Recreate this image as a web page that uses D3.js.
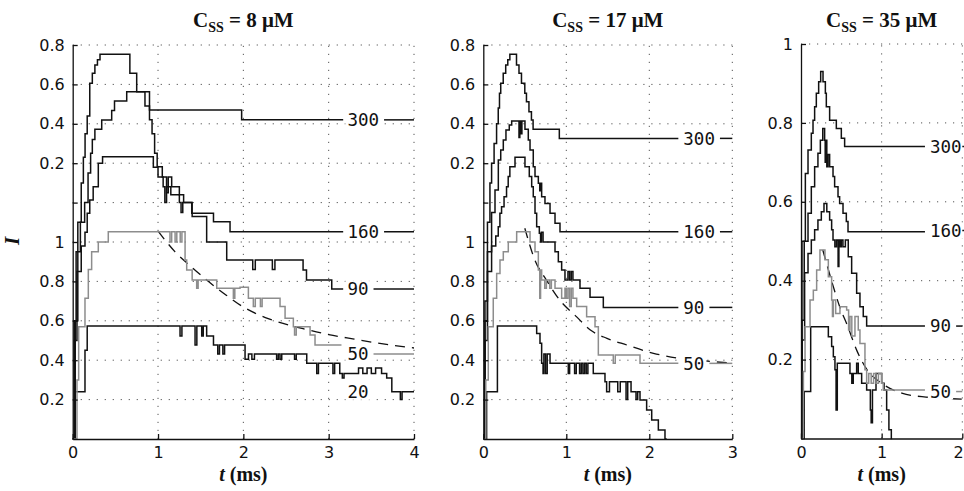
<!DOCTYPE html>
<html>
<head>
<meta charset="utf-8">
<script src="https://cdn.jsdelivr.net/npm/d3@7"></script>
<style>
body { margin: 0; background: #fff; }
svg { display: block; }
</style>
</head>
<body>
<svg id="chart" width="964" height="491"></svg>
<script>
// ---- data: [t (ms), I] pairs (upper traces carry their offset) ----
var concs = ["8", "17", "35"];

var tr8_300 = [[0,0],[0.03,0.6],[0.06,1.1],[0.1,1.3],[0.125,1.43],[0.145,1.55],[0.17,1.64],[0.2,1.806],[0.23,1.856],[0.26,1.898],[0.29,1.925],[0.32,1.953],[0.67,1.856],[0.75,1.763],[0.9,1.67],[1.98,1.62],[3.17,1.62]];
var tr8_160 = [[0,0],[0.02,0.6],[0.04,0.95],[0.09,1.1],[0.14,1.2],[0.18,1.35],[0.21,1.45],[0.23,1.52],[0.26,1.572],[0.34,1.619],[0.457,1.667],[0.49,1.716],[0.633,1.763],[0.847,1.69],[0.9,1.62],[0.93,1.55],[0.96,1.45],[0.99,1.382],[1.05,1.33],[1.1,1.25],[1.12,1.33],[1.16,1.28],[1.25,1.24],[1.3,1.2],[1.395,1.146],[1.65,1.103],[1.844,1.052],[3.17,1.052]];
var tr8_90 = [[0,0],[0.02,0.5],[0.05,0.85],[0.1,0.98],[0.144,1.05],[0.17,1.146],[0.2,1.213],[0.24,1.281],[0.3,1.4],[0.35,1.433],[0.945,1.38],[1.0,1.33],[1.06,1.28],[1.08,1.2],[1.1,1.28],[1.15,1.24],[1.25,1.2],[1.27,1.15],[1.29,1.2],[1.4,1.13],[1.57,1.0],[1.805,0.909],[2.11,0.86],[2.14,0.909],[2.34,0.86],[2.37,0.909],[2.7,0.858],[2.74,0.807],[3.036,0.761],[3.17,0.761]];
var tr8_50 = [[0,0],[0.05,0.3],[0.07,0.57],[0.144,0.714],[0.183,0.86],[0.222,0.951],[0.3,1.0],[0.417,1.052],[1.14,1.0],[1.16,1.052],[1.2,1.0],[1.22,1.052],[1.26,1.0],[1.28,1.052],[1.317,0.909],[1.336,0.858],[1.4,0.807],[1.453,0.765],[1.47,0.807],[1.688,0.765],[1.883,0.714],[1.9,0.765],[1.961,0.77],[2.059,0.714],[2.117,0.672],[2.14,0.714],[2.2,0.672],[2.22,0.714],[2.43,0.672],[2.489,0.613],[2.586,0.57],[2.6,0.528],[2.62,0.57],[2.782,0.528],[2.84,0.477],[3.15,0.477]];
var tr8_20 = [[0,0],[0.027,0.24],[0.144,0.45],[0.17,0.574],[1.258,0.523],[1.28,0.574],[1.434,0.477],[1.455,0.574],[1.512,0.523],[1.53,0.574],[1.57,0.523],[1.65,0.477],[1.7,0.431],[1.72,0.477],[1.76,0.431],[1.78,0.477],[2.02,0.405],[2.06,0.431],[2.1,0.405],[2.13,0.431],[2.39,0.405],[2.41,0.431],[2.43,0.405],[2.45,0.431],[2.6,0.405],[2.62,0.431],[2.743,0.384],[2.86,0.333],[2.88,0.384],[3.05,0.333],[3.07,0.384],[3.13,0.333],[3.16,0.31],[3.18,0.333],[3.35,0.36],[3.4,0.333],[3.45,0.36],[3.5,0.333],[3.55,0.36],[3.62,0.333],[3.68,0.31],[3.74,0.24],[3.84,0.2],[3.86,0.24],[4.0,0.24]];
var dash8 = [[1.0,1.055],[1.2,0.95],[1.4,0.87],[1.57,0.807],[1.8,0.73],[2.0,0.67],[2.3,0.61],[2.7,0.56],[3.0,0.53],[3.3,0.507],[3.6,0.485],[4.0,0.462]];

var tr17_300 = [[0,0],[0.02,0.7],[0.05,1.1],[0.08,1.3],[0.1,1.4],[0.13,1.5],[0.16,1.6],[0.18,1.68],[0.195,1.755],[0.21,1.806],[0.24,1.856],[0.27,1.898],[0.295,1.925],[0.32,1.953],[0.4,1.898],[0.43,1.856],[0.46,1.806],[0.5,1.755],[0.52,1.712],[0.55,1.661],[0.58,1.619],[0.6,1.572],[0.916,1.526],[2.35,1.526]];
var tr17_160 = [[0,0],[0.02,0.6],[0.05,0.95],[0.1,1.15],[0.141,1.264],[0.181,1.416],[0.21,1.467],[0.241,1.518],[0.273,1.568],[0.313,1.594],[0.342,1.614],[0.43,1.53],[0.44,1.614],[0.455,1.55],[0.465,1.614],[0.502,1.572],[0.542,1.518],[0.563,1.467],[0.602,1.382],[0.623,1.332],[0.663,1.298],[0.68,1.26],[0.69,1.298],[0.703,1.23],[0.743,1.196],[0.804,1.146],[0.864,1.095],[0.924,1.052],[2.35,1.052]];
var tr17_90 = [[0,0],[0.02,0.5],[0.05,0.85],[0.1,0.98],[0.15,1.03],[0.18,1.078],[0.2,1.146],[0.22,1.179],[0.25,1.23],[0.28,1.281],[0.3,1.332],[0.32,1.382],[0.382,1.43],[0.502,1.382],[0.554,1.332],[0.583,1.281],[0.602,1.23],[0.623,1.146],[0.643,1.078],[0.675,1.044],[0.69,1.0],[0.7,1.05],[0.72,1.0],[0.864,0.951],[0.904,0.9],[0.944,0.858],[0.984,0.807],[1.02,0.85],[1.04,0.807],[1.06,0.85],[1.08,0.807],[1.165,0.765],[1.286,0.72],[1.446,0.668],[2.35,0.668]];
var tr17_50 = [[0,0],[0.03,0.3],[0.06,0.57],[0.12,0.714],[0.161,0.84],[0.201,0.909],[0.241,0.951],[0.301,1.0],[0.402,1.052],[0.563,1.0],[0.623,0.951],[0.663,0.858],[0.68,0.714],[0.69,0.858],[0.703,0.807],[0.74,0.765],[0.76,0.807],[0.8,0.765],[0.82,0.807],[0.864,0.765],[0.944,0.714],[0.984,0.765],[1.0,0.714],[1.02,0.765],[1.04,0.672],[1.06,0.765],[1.08,0.714],[1.125,0.672],[1.245,0.62],[1.346,0.57],[1.386,0.426],[1.566,0.384],[1.59,0.426],[1.627,0.426],[1.888,0.384],[2.35,0.384]];
var tr17_20 = [[0,0],[0.04,0.24],[0.17,0.574],[0.643,0.536],[0.683,0.486],[0.703,0.384],[0.72,0.333],[0.73,0.431],[0.75,0.333],[0.77,0.431],[0.804,0.384],[1.024,0.333],[1.04,0.384],[1.1,0.333],[1.12,0.384],[1.16,0.333],[1.18,0.384],[1.2,0.333],[1.22,0.384],[1.24,0.333],[1.26,0.384],[1.325,0.333],[1.466,0.291],[1.486,0.24],[1.52,0.291],[1.6,0.291],[1.62,0.24],[1.65,0.291],[1.7,0.291],[1.72,0.2],[1.74,0.291],[1.78,0.24],[1.84,0.2],[1.86,0.24],[1.888,0.198],[1.968,0.147],[2.029,0.096],[2.109,0.046],[2.189,0],[2.21,0]];
var dash17 = [[0.5,1.07],[0.62,0.91],[0.76,0.807],[0.92,0.706],[1.125,0.62],[1.29,0.553],[1.49,0.511],[1.73,0.477],[2.05,0.435],[2.35,0.41],[2.7,0.395],[3.0,0.385]];

var tr35_300 = [[0,0],[0.012,0.5],[0.054,0.672],[0.087,0.731],[0.128,0.774],[0.149,0.807],[0.169,0.841],[0.19,0.875],[0.219,0.904],[0.244,0.93],[0.273,0.904],[0.302,0.875],[0.314,0.841],[0.355,0.807],[0.438,0.786],[0.5,0.761],[0.541,0.74],[1.537,0.74]];
var tr35_160 = [[0,0],[0.012,0.3],[0.04,0.5],[0.087,0.571],[0.128,0.638],[0.169,0.689],[0.21,0.723],[0.24,0.756],[0.27,0.786],[0.293,0.756],[0.3,0.7],[0.31,0.756],[0.32,0.689],[0.335,0.72],[0.355,0.689],[0.397,0.664],[0.417,0.638],[0.459,0.613],[0.479,0.596],[0.521,0.571],[0.562,0.55],[0.583,0.524],[1.537,0.524]];
var tr35_90 = [[0,0],[0.015,0.25],[0.045,0.42],[0.087,0.469],[0.128,0.503],[0.169,0.529],[0.21,0.554],[0.252,0.575],[0.285,0.596],[0.32,0.575],[0.355,0.554],[0.38,0.529],[0.397,0.503],[0.42,0.486],[0.44,0.503],[0.46,0.436],[0.47,0.503],[0.483,0.486],[0.5,0.503],[0.52,0.486],[0.55,0.503],[0.586,0.461],[0.628,0.419],[0.69,0.368],[0.731,0.334],[0.772,0.309],[0.814,0.285],[1.537,0.285]];
var tr35_50 = [[0,0],[0.03,0.17],[0.05,0.283],[0.112,0.351],[0.153,0.376],[0.194,0.427],[0.235,0.478],[0.297,0.453],[0.339,0.41],[0.38,0.351],[0.39,0.309],[0.401,0.351],[0.43,0.317],[0.483,0.334],[0.566,0.326],[0.59,0.275],[0.607,0.309],[0.63,0.26],[0.669,0.309],[0.71,0.275],[0.731,0.241],[0.793,0.174],[0.814,0.14],[0.84,0.165],[0.87,0.14],[0.9,0.165],[0.93,0.14],[0.96,0.165],[1.0,0.14],[1.02,0.123],[1.537,0.123]];
var tr35_20 = [[0,0],[0.04,0.119],[0.12,0.283],[0.339,0.258],[0.38,0.233],[0.401,0.207],[0.421,0.174],[0.435,0.072],[0.45,0.191],[0.607,0.165],[0.63,0.14],[0.648,0.165],[0.69,0.191],[0.71,0.165],[0.752,0.14],[0.814,0.123],[0.86,0.072],[0.87,0.04],[0.886,0.123],[0.93,0.165],[1.0,0.14],[1.03,0.123],[1.062,0.072],[1.09,0.022],[1.12,0],[1.13,0]];
var dash35 = [[0.27,0.478],[0.376,0.402],[0.48,0.334],[0.58,0.284],[0.69,0.224],[0.82,0.174],[1.0,0.14],[1.25,0.115],[1.55,0.105],[2.0,0.1]];

// trace names and the level their end label sits at
var names8 = ["300", "160", "90", "50", "20"];
var levels8 = [1.62, 1.052, 0.761, 0.431, 0.24];
var names17 = ["300", "160", "90", "50", "20"];
var levels17 = [1.526, 1.052, 0.668, 0.384, null];
var names35 = ["300", "160", "90", "50", "20"];
var levels35 = [0.74, 0.527, 0.285, 0.119, null];
var labelT = [3.22, 2.41, 1.6];

// ticks
var xTicks8 = [0, 1, 2, 3, 4];
var xTicks17 = [0, 1, 2, 3];
var xTicks35 = [0, 1, 2];
var yTicksOff = [0.2, 0.4, 0.6, 0.8, 1.0, 1.2, 1.4, 1.6, 1.8, 2.0];
var yTextOff = ["0.2", "0.4", "0.6", "0.8", "1", "", "0.2", "0.4", "0.6", "0.8"];
var yTicks35 = [0.2, 0.4, 0.6, 0.8, 1.0];
var yText35 = ["0.2", "0.4", "0.6", "0.8", "1"];

// ---- drawing ----
var svg = d3.select("#chart"),
	ink = "#111",
	grey = "#8d8d8d",
	tickFont = "DejaVu Sans, sans-serif",
	serif = "Liberation Serif, Times New Roman, serif";

var panels = [
	{ box: [72.7, 414, 45, 439], tMax: 4, yMax: 2, traces: [tr8_300, tr8_160, tr8_90, tr8_50, tr8_20], names: names8, levels: levels8, dash: dash8, xt: xTicks8, yt: yTicksOff, ytt: yTextOff },
	{ box: [483.3, 732.3, 45, 439], tMax: 3, yMax: 2, traces: [tr17_300, tr17_160, tr17_90, tr17_50, tr17_20], names: names17, levels: levels17, dash: dash17, xt: xTicks17, yt: yTicksOff, ytt: yTextOff },
	{ box: [801, 962.3, 44, 438.5], tMax: 2, yMax: 1, traces: [tr35_300, tr35_160, tr35_90, tr35_50, tr35_20], names: names35, levels: levels35, dash: dash35, xt: xTicks35, yt: yTicks35, ytt: yText35 }
];

panels.forEach(function(p, i) {
	var x = d3.scaleLinear().domain([0, p.tMax]).range([p.box[0], p.box[1]]),
		y = d3.scaleLinear().domain([0, p.yMax]).range([p.box[3], p.box[2]]),
		g = svg.append("g"),
		cx = (p.box[0] + p.box[1]) / 2;

	// dotted grid
	g.append("g").selectAll("line").data(p.xt.slice(1)).join("line")
		.attr("x1", function(d) { return x(d); })
		.attr("x2", function(d) { return x(d); })
		.attr("y1", y(0)).attr("y2", y(p.yMax))
		.attr("stroke", "#555").attr("stroke-width", 1).attr("stroke-dasharray", "1.2,6.8");
	g.append("g").selectAll("line").data(p.yt).join("line")
		.attr("y1", function(d) { return y(d); })
		.attr("y2", function(d) { return y(d); })
		.attr("x1", x(0)).attr("x2", x(p.tMax))
		.attr("stroke", "#555").attr("stroke-width", 1).attr("stroke-dasharray", "1.2,6.8");

	// dashed decay
	var smooth = d3.line()
		.x(function(d) { return x(d[0]); })
		.y(function(d) { return y(d[1]); })
		.curve(d3.curveMonotoneX);
	g.append("path").datum(p.dash)
		.attr("d", smooth)
		.attr("fill", "none").attr("stroke", ink).attr("stroke-width", 1.3)
		.attr("stroke-dasharray", "10,7");

	// staircase traces, black first then grey
	var step = d3.line()
		.x(function(d) { return x(d[0]); })
		.y(function(d) { return y(d[1]); })
		.curve(d3.curveStepAfter);
	var order = [4, 2, 1, 0, 3];
	order.forEach(function(k) {
		g.append("path").datum(p.traces[k])
			.attr("d", step)
			.attr("fill", "none")
			.attr("stroke", p.names[k] == "50" ? grey : ink)
			.attr("stroke-width", 1.5)
			.attr("stroke-linejoin", "miter");
	});

	// end labels
	var lx = x(labelT[i]);
	p.names.forEach(function(nm, k) {
		var lv = p.levels[k];
		if (lv == null) return;
		var ly = y(lv);
		var bg = g.append("rect").attr("fill", "#fff");
		var t = g.append("text")
			.attr("x", lx).attr("y", ly).attr("dy", "0.36em")
			.attr("font-family", "DejaVu Sans Mono, monospace")
			.attr("font-size", 17.5)
			.attr("fill", ink)
			.text(nm);
		var w = t.node().getComputedTextLength();
		bg.attr("x", lx - 2).attr("y", ly - 8).attr("width", w + 4).attr("height", 16);
		if (nm != "20") {
			g.append("line")
				.attr("x1", lx + w + 5).attr("x2", x(p.tMax))
				.attr("y1", ly).attr("y2", ly)
				.attr("stroke", nm == "50" ? grey : ink).attr("stroke-width", 1.5);
		}
	});

	// axes
	var ay = d3.axisLeft(y).tickValues(p.yt)
		.tickFormat(function(d, j) { return p.ytt[j]; })
		.tickSizeInner(-5).tickSizeOuter(0).tickPadding(8);
	var gy = g.append("g").attr("transform", "translate(" + x(0) + ",0)").call(ay);
	var ax = d3.axisBottom(x).tickValues(p.xt)
		.tickFormat(d3.format("d"))
		.tickSizeInner(-5).tickSizeOuter(0).tickPadding(8);
	var gx = g.append("g").attr("transform", "translate(0," + y(0) + ")").call(ax);
	[gx, gy].forEach(function(a) {
		a.selectAll("path, line").attr("stroke", ink).attr("stroke-width", 1.3);
		a.selectAll("text").attr("font-family", tickFont).attr("font-size", 16).attr("fill", ink);
	});
	// keep the last x label inside the page
	if (p.box[1] > 950) {
		gx.selectAll(".tick").filter(function(d) { return d == p.tMax; })
			.select("text").attr("text-anchor", "end").attr("dx", "0.05em");
	}

	// title
	var tt = svg.append("text")
		.attr("x", cx).attr("y", 27)
		.attr("text-anchor", "middle")
		.attr("font-family", serif).attr("font-weight", "bold").attr("font-size", 21)
		.attr("fill", ink);
	tt.append("tspan").text("C");
	tt.append("tspan").attr("font-size", 14).attr("dy", 5).text("SS");
	tt.append("tspan").attr("dy", -5).text(" = " + concs[i] + " \u03bcM");

	// x label
	var xl = svg.append("text")
		.attr("x", cx).attr("y", 481)
		.attr("text-anchor", "middle")
		.attr("font-family", serif).attr("font-weight", "bold").attr("font-size", 20)
		.attr("fill", ink);
	xl.append("tspan").attr("font-style", "italic").text("t");
	xl.append("tspan").text(" (ms)");
});

svg.append("text")
	.attr("transform", "translate(19,241) rotate(-90)")
	.attr("text-anchor", "middle")
	.attr("font-family", serif).attr("font-weight", "bold").attr("font-style", "italic")
	.attr("font-size", 21).attr("fill", ink)
	.text("I");
</script>
</body>
</html>
